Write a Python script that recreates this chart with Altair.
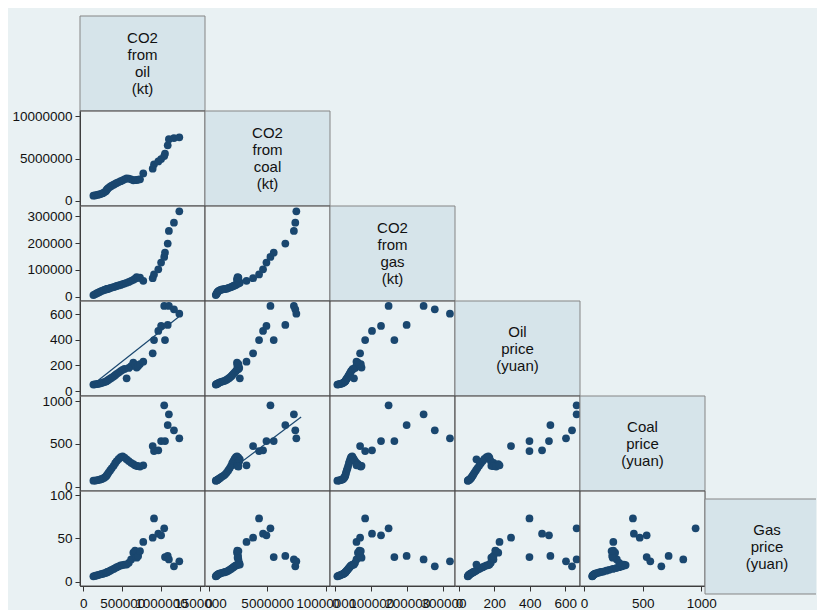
import altair as alt
import pandas as pd

# ---------------- data ----------------
oil_kt = [130000, 150000, 170000, 190000, 210000, 230000, 250000, 270000, 290000, 300000,
          310000, 325000, 345000, 365000, 390000, 410000, 430000, 455000, 480000, 505000,
          530000, 557000, 585000, 615000, 643000, 665000, 686000, 705000, 729000,
          771000, 892000, 909000, 964000, 1000000, 1040000, 1050000, 1085000, 1100000,
          1165000, 1234000]
coal_kt = [620000, 660000, 700000, 740000, 780000, 840000, 920000, 1020000, 1150000, 1300000,
           1420000, 1550000, 1680000, 1800000, 1920000, 2020000, 2120000, 2220000, 2330000, 2430000,
           2550000, 2670000, 2620000, 2550000, 2430000, 2450000, 2480000, 2520000, 2550000,
           3240000, 3800000, 4310000, 4650000, 4940000, 5280000, 5560000, 6550000, 7280000,
           7400000, 7490000]
gas_kt = [6000, 9000, 12000, 15000, 18000, 21000, 23000, 25000, 27000, 28000,
          29000, 30000, 32000, 34000, 36000, 38000, 40000, 42000, 44000, 47000,
          49000, 52000, 55000, 59000, 63000, 67000, 73000, 70000, 71000,
          59000, 69000, 83000, 102000, 127000, 148000, 164000, 198000, 245000,
          276000, 318000]
oil_price = [50, 52, 54, 56, 58, 62, 66, 70, 74, 78,
             82, 88, 96, 104, 114, 124, 134, 144, 156, 166,
             172, 99, 180, 195, 222, 205, 183, 195, 210,
             229, 294, 398, 469, 508, 664, 398, 516, 664, 638, 604]
coal_price = [70, 72, 75, 78, 82, 88, 95, 105, 118, 130,
              145, 165, 190, 215, 245, 275, 300, 325, 345, 355,
              340, 320, 300, 280, 265, 250, 245, 240, 235,
              250, 475, 417, 425, 534, 951, 534, 721, 846, 659, 565]
gas_price = [6.5, 7, 7.5, 8, 8.5, 9, 9.5, 10, 10.5, 11,
             11.5, 12, 13, 14, 15, 16, 17, 18, 19, 19.5,
             20, 20, 22, 26, 33.7, 36, 28, 30, 35.6,
             46, 51, 73, 55.5, 53.7, 61.7, 28.7, 30, 26, 18, 23.8]

# straight reference lines drawn in two panels (end points)
line_oil = [137000, 1240000]
line_oilp = [57, 586]
line_coal = [830000, 7900000]
line_coalp = [86, 814]

var_names = ["oil", "coal", "gas", "oilp", "coalp", "gasp"]
var_labels = ["CO2\nfrom\noil\n(kt)", "CO2\nfrom\ncoal\n(kt)", "CO2\nfrom\ngas\n(kt)",
              "Oil\nprice\n(yuan)", "Coal\nprice\n(yuan)", "Gas\nprice\n(yuan)"]
tick_values = {
    "oil": [0, 500000, 1000000, 1500000],
    "coal": [0, 5000000, 10000000],
    "gas": [0, 100000, 200000, 300000],
    "oilp": [0, 200, 400, 600],
    "coalp": [0, 500, 1000],
    "gasp": [0, 50, 100],
}

df = pd.DataFrame({
    "oil": oil_kt, "coal": coal_kt, "gas": gas_kt,
    "oilp": oil_price, "coalp": coal_price, "gasp": gas_price,
})
fit_lines = {
    (3, 0): pd.DataFrame({"oil": line_oil, "oilp": line_oilp}),
    (4, 1): pd.DataFrame({"coal": line_coal, "coalp": line_coalp}),
}

# ---------------- styling ----------------
W, H = 125, 95
W_LAST = 111
LINE_H = 17
NAVY = "#1a476f"
BG = "#e9f1f3"
LBL = "#d6e4ea"
BOX = "#858585"
CELL = "#4a4a4a"
FONT = "Liberation Sans"
AX = "#333333"

x_domain = {"oil": [-42000, 1564000], "coal": [-300000, 10360000], "gas": [-14400, 332000],
            "oilp": [-22, 683], "coalp": [-34, 1031]}
y_domain = {"coal": [-590000, 10590000], "gas": [-16000, 338000], "oilp": [-39, 703],
            "coalp": [-50, 1060], "gasp": [-4.6, 104.6]}

transparent_view = alt.ViewBackground(fill="transparent", stroke="transparent")
one_row = pd.DataFrame({"k": [0]})


def x_axis(v):
    return alt.Axis(values=tick_values[v], format="d", title=None, grid=False, tickSize=5,
                    labelPadding=5, labelFontSize=13.5, labelFont=FONT, labelColor="#111",
                    domainColor=AX, tickColor=AX, labelOverlap=False, labelFlush=False,
                    labelBound=False)


def y_axis(v):
    return alt.Axis(values=tick_values[v], format="d", title=None, grid=False, tickSize=5,
                    labelPadding=3, labelFontSize=13.5, labelFont=FONT, labelColor="#111",
                    domainColor=AX, tickColor=AX, labelOverlap=False, labelFlush=False,
                    labelBound=False, minExtent=68, maxExtent=68)


def scatter(r, c):
    xv, yv = var_names[c], var_names[r]
    x = alt.X(f"{xv}:Q", scale=alt.Scale(domain=x_domain[xv], nice=False, zero=False),
              axis=x_axis(xv) if r == 5 else None)
    y = alt.Y(f"{yv}:Q", scale=alt.Scale(domain=y_domain[yv], nice=False, zero=False),
              axis=y_axis(yv) if c == 0 else None)
    layers = [alt.Chart(df).mark_circle(size=60, color=NAVY, opacity=1).encode(x=x, y=y)]
    if (r, c) in fit_lines:
        layers.append(alt.Chart(fit_lines[(r, c)]).mark_line(color=NAVY, strokeWidth=1.2)
                      .encode(x=x, y=y))
    border = alt.Chart(one_row).mark_rect(fillOpacity=0, stroke=CELL, strokeWidth=1).encode(
        x=alt.value(0), x2=alt.value(W), y=alt.value(0), y2=alt.value(H))
    layers.append(border)
    return alt.layer(*layers).properties(width=W, height=H)


def label_cell(i, w=W, dy=0, tx=None, open_right=False):
    text = var_labels[i]
    n = text.count("\n") + 1
    d = pd.DataFrame({"t": [text]})
    layers = []
    if open_right:
        layers.append(alt.Chart(d).mark_rect(fill=LBL).encode(
            x=alt.value(0), x2=alt.value(w), y=alt.value(dy), y2=alt.value(H + dy)))
        for y0, y1, x0, x1 in [(dy, dy, 0, w), (H + dy, H + dy, 0, w), (dy, H + dy, 0, 0)]:
            layers.append(alt.Chart(d).mark_rule(color=BOX, strokeWidth=1).encode(
                x=alt.value(x0), x2=alt.value(x1), y=alt.value(y0), y2=alt.value(y1)))
    else:
        layers.append(alt.Chart(d).mark_rect(fill=LBL, stroke=BOX, strokeWidth=1).encode(
            x=alt.value(0), x2=alt.value(w), y=alt.value(dy), y2=alt.value(H + dy)))
    layers.append(alt.Chart(d).mark_text(lineBreak="\n", fontSize=15, lineHeight=LINE_H, font=FONT,
                                         color="#111", baseline="middle", align="center").encode(
        x=alt.value(tx if tx is not None else w / 2),
        y=alt.value(H / 2 + dy - (n - 1) * LINE_H / 2), text="t:N"))
    return alt.layer(*layers).properties(width=w, height=H, view=transparent_view)


def empty_cell(w=W):
    return alt.Chart(one_row).mark_point(opacity=0).encode(
        x=alt.value(0), y=alt.value(0)).properties(width=w, height=H, view=transparent_view)


cells = []
for r in range(6):
    for c in range(6):
        w = W_LAST if c == 5 else W
        if c < r:
            cells.append(scatter(r, c))
        elif c == r:
            if r == 5:
                cells.append(label_cell(r, w=w, dy=8, tx=62, open_right=True))
            else:
                cells.append(label_cell(r, w=w))
        else:
            cells.append(empty_cell(w))

chart = alt.concat(*cells, columns=6, spacing=0, bounds="flush").properties(
    background=BG,
    padding={"left": 3, "top": 4, "right": 0, "bottom": 0},
).configure_view(
    stroke=CELL, strokeWidth=1, fill="white"
).configure(font=FONT)

chart.save("out.html", embed_options={"renderer": "svg", "actions": False})
